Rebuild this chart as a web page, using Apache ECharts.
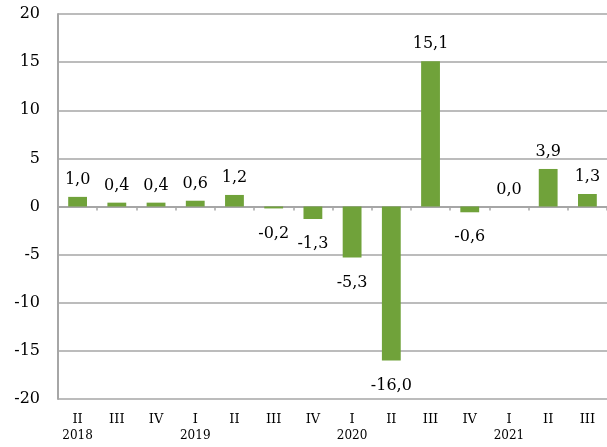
<!DOCTYPE html>
<html>
<head>
    <meta charset="utf-8" />
    <title>Quarterly change</title>
    <style>
        html, body { margin: 0; padding: 0; background: #fff; }
        #chart { width: 607px; height: 447px; }
    </style>
</head>
<body>
    <div id="chart"></div>
    <script src="https://cdn.jsdelivr.net/npm/echarts@6/dist/echarts.min.js"></script>
    <script>
        // quarters, II 2018 .. III 2021
        var quarters = ['II', 'III', 'IV', 'I', 'II', 'III', 'IV', 'I', 'II', 'III', 'IV', 'I', 'II', 'III'];
        var years = ['2018', '', '', '2019', '', '', '', '2020', '', '', '', '2021', '', ''];
        var values = [1.0, 0.4, 0.4, 0.6, 1.2, -0.2, -1.3, -5.3, -16.0, 15.1, -0.6, 0.0, 3.9, 1.3];
        var yTicks = [-20, -15, -10, -5, 0, 5, 10, 15, 20];

        var serif = '"DejaVu Serif", "Liberation Serif", serif';
        var gridColor = '#a6a6a6';

        // negative bars get their label underneath
        var barData = values.map(function (v) {
            return {
                value: v,
                label: {
                    position: v < 0 ? 'bottom' : 'top',
                    distance: v < 0 ? 17 : 9
                }
            };
        });

        var chart = echarts.init(document.getElementById('chart'));
        chart.setOption({
            animation: false,
            backgroundColor: '#fff',
            grid: { left: 58, right: 0, top: 14, bottom: 48 },
            xAxis: [
                {
                    type: 'category',
                    data: quarters,
                    position: 'bottom',
                    axisLine: { show: false, onZero: false },
                    axisTick: { show: false },
                    axisLabel: {
                        interval: 0,
                        margin: 12,
                        formatter: function (val, i) {
                            return '{q|' + val + '}\n{y|' + years[i] + '}';
                        },
                        rich: {
                            q: { fontFamily: serif, fontSize: 13, color: '#000', lineHeight: 17 },
                            y: { fontFamily: serif, fontSize: 12, color: '#000', lineHeight: 15 }
                        }
                    }
                },
                {
                    // zero line with tick marks between categories
                    type: 'category',
                    data: quarters,
                    position: 'bottom',
                    axisLine: { show: true, onZero: true, lineStyle: { color: gridColor, width: 2 } },
                    axisTick: { show: true, interval: 0, length: 4, lineStyle: { color: gridColor, width: 1.5 } },
                    axisLabel: { show: false, interval: 0 }
                }
            ],
            yAxis: {
                type: 'value',
                min: yTicks[0],
                max: yTicks[yTicks.length - 1],
                interval: 5,
                axisLine: { show: true, lineStyle: { color: gridColor, width: 2 } },
                axisTick: { show: false },
                axisLabel: {
                    margin: 18,
                    fontFamily: serif,
                    fontSize: 16,
                    color: '#000'
                },
                splitLine: { lineStyle: { color: gridColor, width: 1.5 } }
            },
            series: [
                {
                    type: 'bar',
                    xAxisIndex: 0,
                    data: barData,
                    barWidth: '48%',
                    itemStyle: { color: '#70a23a' },
                    label: {
                        show: true,
                        fontFamily: serif,
                        fontSize: 16,
                        color: '#000',
                        formatter: function (p) {
                            return p.value.toFixed(1).replace('.', ',');
                        }
                    }
                }
            ]
        });
    </script>
</body>
</html>
